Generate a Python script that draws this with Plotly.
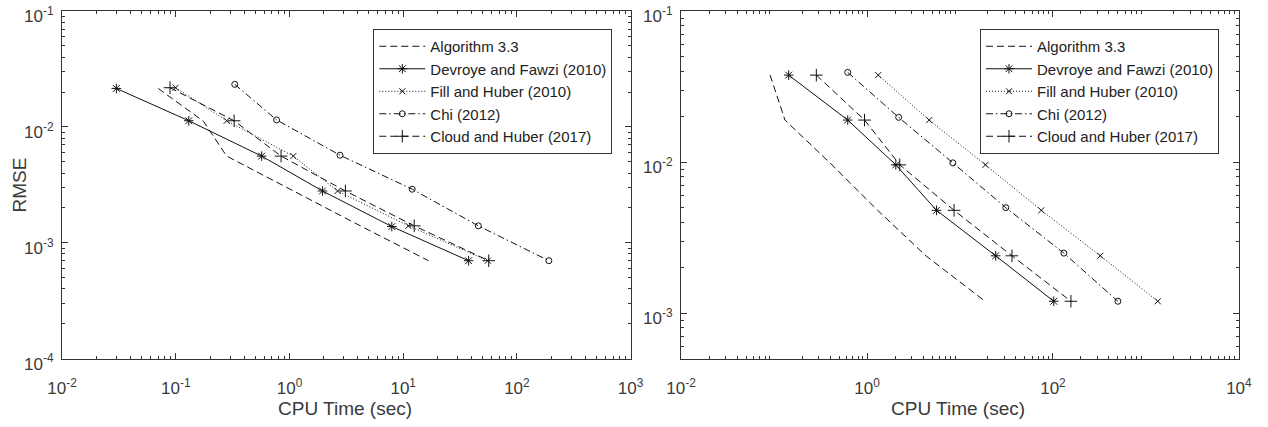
import math
import plotly.graph_objects as go

# ---------------- data ----------------
series_names = ["Algorithm 3.3", "Devroye and Fawzi (2010)", "Fill and Huber (2010)",
                "Chi (2012)", "Cloud and Huber (2017)"]

# Left panel
alg_time_L = [0.070, 0.175, 0.28, 1.08, 4.2, 16.7]
alg_rmse_L = [0.0215, 0.0112, 0.0056, 0.0028, 0.0014, 0.0007]
dev_time_L = [0.030, 0.130, 0.569, 1.95, 7.94, 37.6]
dev_rmse_L = [0.0215, 0.0113, 0.0056, 0.0028, 0.00138, 0.0007]
fill_time_L = [0.0996, 0.28, 1.08, 2.65, 11.1, 55.5]
fill_rmse_L = [0.0218, 0.0113, 0.0056, 0.0028, 0.0014, 0.0007]
chi_time_L = [0.33, 0.77, 2.78, 12.0, 45.8, 191]
chi_rmse_L = [0.0233, 0.0115, 0.0057, 0.0029, 0.0014, 0.0007]
cloud_time_L = [0.089, 0.326, 0.843, 3.1, 12.5, 56.5]
cloud_rmse_L = [0.0218, 0.0113, 0.0056, 0.0028, 0.0014, 0.0007]

# Right panel
alg_time_R = [0.0906, 0.131, 0.42, 1.3, 4.3, 18.6]
alg_rmse_R = [0.0378, 0.019, 0.0096, 0.0048, 0.0024, 0.0012]
dev_time_R = [0.1436, 0.62, 2.04, 5.59, 24.2, 102]
dev_rmse_R = [0.0377, 0.019, 0.0096, 0.0048, 0.0024, 0.0012]
fill_time_R = [1.32, 4.66, 18.8, 74.8, 323, 1340]
fill_rmse_R = [0.0377, 0.019, 0.0096, 0.0048, 0.0024, 0.0012]
chi_time_R = [0.62, 2.19, 8.37, 31.1, 131, 499]
chi_rmse_R = [0.0393, 0.0198, 0.0099, 0.0050, 0.0025, 0.0012]
cloud_time_R = [0.285, 0.94, 2.25, 8.63, 36.2, 156]
cloud_rmse_R = [0.0377, 0.019, 0.0096, 0.0048, 0.0024, 0.0012]

x_ticks_L = [1e-2, 1e-1, 1e0, 1e1, 1e2, 1e3]
x_ticktext_L = ["10<sup>-2</sup>", "10<sup>-1</sup>", "10<sup>0</sup>", "10<sup>1</sup>",
                "10<sup>2</sup>", "10<sup>3</sup>"]
x_ticks_R = [1e-2, 1e0, 1e2, 1e4]
x_ticktext_R = ["10<sup>-2</sup>", "10<sup>0</sup>", "10<sup>2</sup>", "10<sup>4</sup>"]
y_ticks_L = [1e-4, 1e-3, 1e-2, 1e-1]
y_ticktext_L = ["10<sup>-4</sup>", "10<sup>-3</sup>", "10<sup>-2</sup>", "10<sup>-1</sup>"]
y_ticks_R = [1e-3, 1e-2, 1e-1]
y_ticktext_R = ["10<sup>-3</sup>", "10<sup>-2</sup>", "10<sup>-1</sup>"]

x_title = "CPU Time (sec)"
y_title = "RMSE"

# ---------------- styling ----------------
FONT = "Liberation Sans, Arial, Helvetica, sans-serif"
TXT = "#3a3a3a"
AX = "#333333"
LC = "#111111"

styles = [
    dict(dash="7px,4px", symbol=None, size=0),
    dict(dash="solid", symbol="asterisk-open", size=8),
    dict(dash="1px,2px", symbol="x-thin-open", size=6),
    dict(dash="7px,3px,1.5px,3px", symbol="circle-open", size=6),
    dict(dash="7px,4px", symbol="cross-thin-open", size=9),
]

def minor_vals(lo, hi, vmin=0.0):
    vals = []
    for e in range(lo, hi):
        for m in range(2, 10):
            v = m * 10.0 ** e
            if v >= vmin:
                vals.append(v)
    return vals

fig = go.Figure()

panels = [
    ("x", "y", "legend",
     [(alg_time_L, alg_rmse_L), (dev_time_L, dev_rmse_L), (fill_time_L, fill_rmse_L),
      (chi_time_L, chi_rmse_L), (cloud_time_L, cloud_rmse_L)]),
    ("x2", "y2", "legend2",
     [(alg_time_R, alg_rmse_R), (dev_time_R, dev_rmse_R), (fill_time_R, fill_rmse_R),
      (chi_time_R, chi_rmse_R), (cloud_time_R, cloud_rmse_R)]),
]

for xa, ya, lg, data in panels:
    for name, st, (xs, ys) in zip(series_names, styles, data):
        mode = "lines" if st["symbol"] is None else "lines+markers"
        marker = dict(color=LC, size=st["size"], line=dict(color=LC, width=1))
        if st["symbol"] is not None:
            marker["symbol"] = st["symbol"]
        fig.add_trace(go.Scatter(
            x=xs, y=ys, name=name, mode=mode, xaxis=xa, yaxis=ya, legend=lg,
            line=dict(color=LC, width=1, dash=st["dash"]),
            marker=marker,
        ))

# invisible carriers for the minor-tick overlay axes
for xa, ya in [("x3", "y"), ("x", "y3"), ("x4", "y2"), ("x2", "y4")]:
    fig.add_trace(go.Scatter(x=[None], y=[None], xaxis=xa, yaxis=ya, mode="markers",
                             showlegend=False, hoverinfo="skip"))

EPS = 0.0008
DOM_XL = [62 / 1268, 630.7 / 1268]
DOM_XR = [681 / 1268, 1239 / 1268]
DOM_Y = [1 - 358.7 / 427, 1 - 11 / 427]
RANGE_XL = [-2 - EPS, 3 + EPS]
RANGE_XR = [-2 - EPS, 4 + EPS]
RANGE_YL = [-4 - EPS, -1 + EPS]
RANGE_YR = [math.log10(5e-4), -1 + EPS]

def major_axis(tickvals, ticktext, domain, rng, anchor, is_x):
    ax = dict(
        type="log", showline=True, linecolor=AX, linewidth=1, mirror="ticks",
        ticks="inside", ticklen=6, tickwidth=1, tickcolor=AX,
        tickvals=tickvals, ticktext=ticktext,
        tickfont=dict(family=FONT, size=17, color=TXT),
        showgrid=False, zeroline=False, automargin=False,
        ticklabeloverflow="allow",
        domain=domain, range=rng, anchor=anchor,
    )
    if is_x:
        ax["ticklabelstandoff"] = 14
    else:
        ax["ticklabelstandoff"] = 4
        ax["ticklabelshift"] = 5
    return ax

def minor_axis(tickvals, domain, rng, anchor, overlay):
    return dict(
        type="log", showline=False, mirror="ticks",
        ticks="inside", ticklen=3, tickwidth=1, tickcolor=AX,
        tickvals=tickvals, showticklabels=False,
        showgrid=False, zeroline=False, automargin=False,
        domain=domain, range=rng, anchor=anchor, overlaying=overlay,
    )

xL = major_axis(x_ticks_L, x_ticktext_L, DOM_XL, RANGE_XL, "y", True)
xR = major_axis(x_ticks_R, x_ticktext_R, DOM_XR, RANGE_XR, "y2", True)
yL = major_axis(y_ticks_L, y_ticktext_L, DOM_Y, RANGE_YL, "x", False)
yR = major_axis(y_ticks_R, y_ticktext_R, DOM_Y, RANGE_YR, "x2", False)

x3 = minor_axis(minor_vals(-2, 3), DOM_XL, RANGE_XL, "y", "x")
y3 = minor_axis(minor_vals(-4, -1), DOM_Y, RANGE_YL, "x", "y")
x4 = minor_axis(minor_vals(-2, 4), DOM_XR, RANGE_XR, "y2", "x2")
y4 = minor_axis(minor_vals(-4, -1, 5e-4), DOM_Y, RANGE_YR, "x2", "y2")

title_font = dict(family=FONT, size=19, color=TXT)
annotations = [
    dict(text=x_title, xref="paper", yref="paper", x=345 / 1268, y=1 - 408 / 427,
         xanchor="center", yanchor="middle", showarrow=False, font=title_font),
    dict(text=x_title, xref="paper", yref="paper", x=958 / 1268, y=1 - 408 / 427,
         xanchor="center", yanchor="middle", showarrow=False, font=title_font),
    dict(text=y_title, xref="paper", yref="paper", x=18.5 / 1268, y=1 - 185 / 427,
         xanchor="center", yanchor="middle", showarrow=False, font=title_font,
         textangle=-90),
]

legend_common = dict(
    xanchor="right", yanchor="top", y=1 - 29 / 427,
    bgcolor="white", bordercolor=AX, borderwidth=1,
    font=dict(family=FONT, size=15, color="#222222"),
    itemwidth=46, tracegroupgap=0,
)

fig.update_layout(
    width=1268, height=427,
    margin=dict(l=0, r=0, t=0, b=0, autoexpand=False),
    paper_bgcolor="white", plot_bgcolor="white",
    font=dict(family=FONT, color=TXT),
    xaxis=xL, yaxis=yL, xaxis2=xR, yaxis2=yR,
    xaxis3=x3, yaxis3=y3, xaxis4=x4, yaxis4=y4,
    legend=dict(x=612.3 / 1268, **legend_common),
    legend2=dict(x=1219 / 1268, **legend_common),
    annotations=annotations,
    showlegend=True,
)

fig.write_html("out.html", config={"displayModeBar": False},
               post_script="document.body.style.margin='0px';")
